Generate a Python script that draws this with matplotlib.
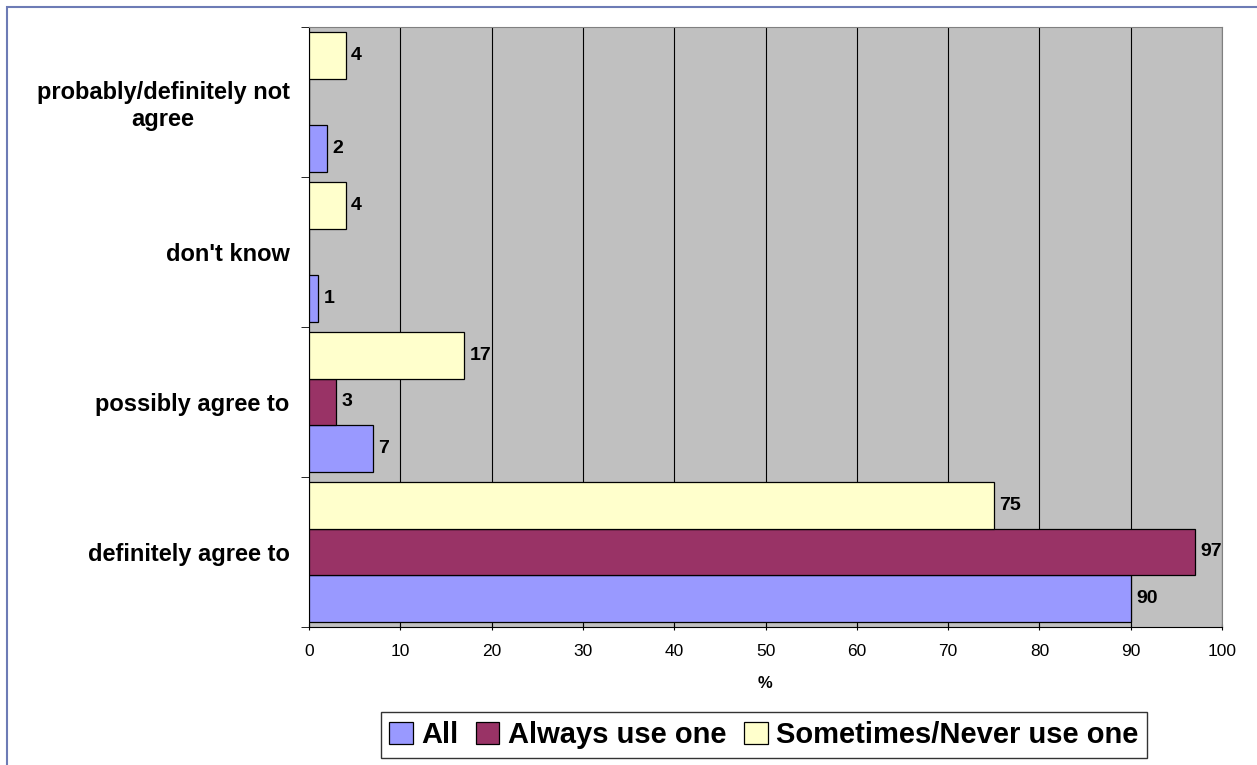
import numpy as np
import matplotlib.pyplot as plt
from matplotlib.patches import Rectangle

plt.rcParams['font.family'] = ['Liberation Sans', 'DejaVu Sans']

categories = ['definitely agree to', 'possibly agree to', "don't know",
              'probably/definitely not\nagree']
series_names = ['All', 'Always use one', 'Sometimes/Never use one']
all_vals = [90, 7, 1, 2]
always_vals = [97, 3, 0, 0]
sometimes_vals = [75, 17, 4, 4]
colors = ['#9999FF', '#993366', '#FFFFCC']

fig = plt.figure(figsize=(12.57, 7.65), dpi=100)
ax = fig.add_axes([309/1257, 1 - 627/765, (1222 - 309)/1257, (627 - 27)/765])
ax.set_facecolor('#C0C0C0')

y = np.arange(len(categories))
h = 0.313
offsets = [-h, 0, h]
for vals, name, col, off in zip([all_vals, always_vals, sometimes_vals],
                                series_names, colors, offsets):
    bars = ax.barh(y + off, vals, height=h, color=col, edgecolor='black',
                   linewidth=0.9, label=name, zorder=3)
    for b, v in zip(bars, vals):
        if v > 0:
            ax.text(v + 0.6, b.get_y() + b.get_height() / 2, str(v),
                    va='center', ha='left', fontsize=14, fontweight='bold', zorder=4)

ax.set_xlim(0, 100)
ax.set_ylim(-0.5, len(categories) - 0.5)
ax.set_xticks(np.arange(0, 101, 10))
ax.xaxis.grid(True, color='black', linewidth=0.8, zorder=1)
ax.set_axisbelow(True)
ax.set_yticks(y)
ax.set_yticklabels(categories, fontsize=17, fontweight='bold', ha='right',
                   multialignment='center')
ax.tick_params(axis='y', length=0, pad=14)
ax.set_yticks(np.arange(-0.5, len(categories), 1), minor=True)
ax.tick_params(axis='y', which='minor', length=6, direction='out')
ax.tick_params(axis='x', length=5, direction='inout', labelsize=12.5, pad=10)
for s in ['top', 'right']:
    ax.spines[s].set_color('#808080')
ax.spines['left'].set_color('black')
ax.spines['bottom'].set_color('black')
ax.set_xlabel('%', fontsize=12, fontweight='bold', labelpad=12)

leg = ax.legend(loc='center', bbox_to_anchor=(764/1257, 1 - 735/765),
                bbox_transform=fig.transFigure, ncol=3, frameon=True,
                fancybox=False, edgecolor='black', prop={'size': 21, 'weight': 'bold'},
                handlelength=0.8, handleheight=0.8, handletextpad=0.3,
                columnspacing=0.6, borderpad=0.3, borderaxespad=0)
leg.get_frame().set_linewidth(1.0)

fig.patches.append(Rectangle((7/1257, -0.1), 1.1, 1 - 7/765 + 0.1,
                             transform=fig.transFigure, fill=False,
                             edgecolor='#6D7BB5', linewidth=1.5))

fig.savefig('out.png', dpi=100)
